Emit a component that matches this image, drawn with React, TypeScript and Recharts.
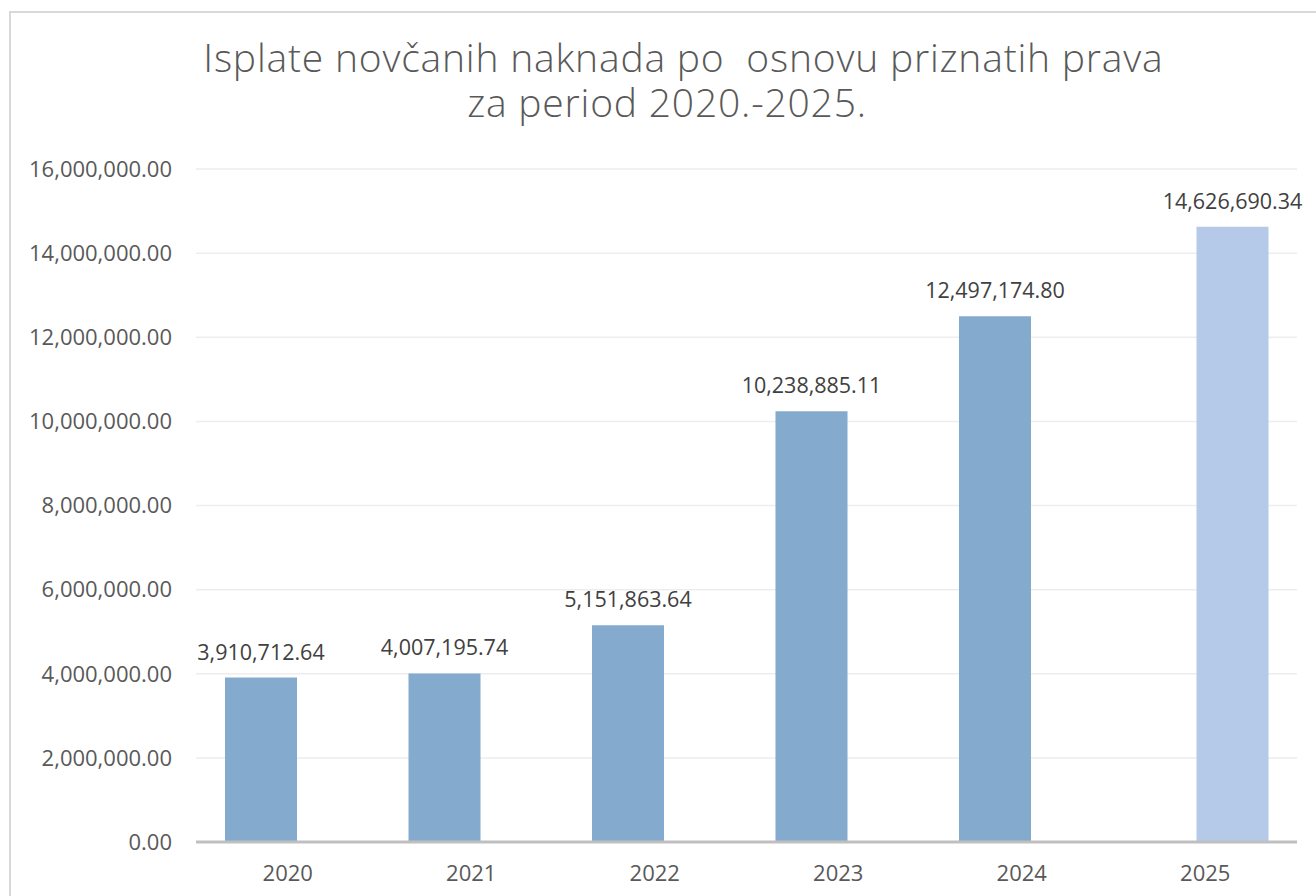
import { BarChart, Bar, XAxis, YAxis, CartesianGrid, LabelList } from "recharts";

const YEARS = ["2020", "2021", "2022", "2023", "2024", "2025"];
const PAID = [3910712.64, 4007195.74, 5151863.64, 10238885.11, 12497174.8, null];
const PLANNED = [null, null, null, null, null, 14626690.34];
const Y_TICKS = [0, 2000000, 4000000, 6000000, 8000000, 10000000, 12000000, 14000000, 16000000];
// leading spaces nudge the first line right, as in the original
const TITLE = "   Isplate novčanih naknada po  osnovu priznatih prava\nza period 2020.-2025.";

const data = YEARS.map((year, i) => ({ year, paid: PAID[i], planned: PLANNED[i] }));

const fmt = (v: unknown) =>
  typeof v === "number"
    ? v.toLocaleString("en-US", { minimumFractionDigits: 2, maximumFractionDigits: 2 })
    : "";

const FONT = "'Open Sans', sans-serif";
const tickStyle = { fill: "#595959", fontSize: 22, fontFamily: FONT };
const labelStyle = { fill: "#404040", fontSize: 21.5, fontFamily: FONT };

export default function App() {
  return (
    <div style={{ position: "fixed", left: 0, top: 0, width: 1316, height: 896, overflow: "hidden", background: "#fff" }}>
      <div
        style={{
          position: "absolute",
          left: 9,
          top: 11,
          width: 1340,
          height: 920,
          border: "2px solid #D9D9D9",
        }}
      />
      <div
        style={{
          position: "absolute",
          left: -8,
          top: 34,
          width: 1350,
          textAlign: "center",
          fontFamily: FONT,
          fontWeight: 300,
          fontSize: 39,
          lineHeight: "45px",
          color: "#595959",
          whiteSpace: "pre",
          letterSpacing: 0.8,
        }}
      >
        {TITLE}
      </div>
      <div style={{ position: "absolute", left: 0, top: 0 }}>
        <BarChart
          width={1316}
          height={896}
          data={data}
          margin={{ top: 169, right: 19, bottom: 0, left: 0 }}
          barGap={-18}
        >
          <CartesianGrid vertical={false} stroke="#EDEDED" strokeWidth={1.5} />
          <YAxis
            width={196}
            domain={[0, 16000000]}
            ticks={Y_TICKS}
            interval={0}
            tickFormatter={fmt}
            axisLine={false}
            tickLine={false}
            tickSize={0}
            tickMargin={24}
            tick={tickStyle}
          />
          <XAxis
            dataKey="year"
            height={54}
            axisLine={{ stroke: "#BFBFBF", strokeWidth: 3 }}
            tickLine={false}
            tickSize={0}
            tickMargin={23}
            tick={tickStyle}
          />
          <Bar dataKey="paid" fill="#84AACE" barSize={72} isAnimationActive={false}>
            <LabelList dataKey="paid" position="top" offset={18} formatter={fmt} style={labelStyle} />
          </Bar>
          <Bar dataKey="planned" fill="#B4CAE8" barSize={72} isAnimationActive={false}>
            <LabelList dataKey="planned" position="top" offset={18} formatter={fmt} style={labelStyle} />
          </Bar>
        </BarChart>
      </div>
    </div>
  );
}
